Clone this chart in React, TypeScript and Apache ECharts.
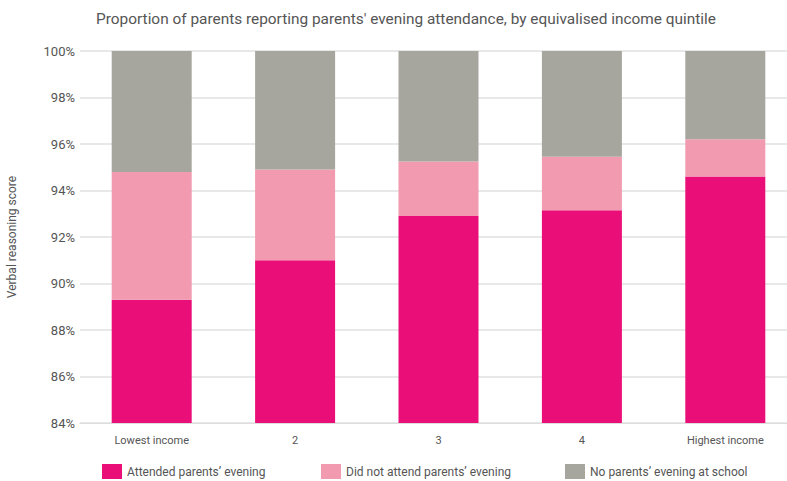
import React, { useEffect, useRef } from "react";
import * as echarts from "echarts";

const categories = ["Lowest income", "2", "3", "4", "Highest income"];
const attended = [89.3, 91.0, 92.9, 93.15, 94.6];
const didNotAttend = [5.5, 3.9, 2.35, 2.3, 1.6];
const noEvening = [5.2, 5.1, 4.75, 4.55, 3.8];
const seriesNames = [
  "Attended parents’ evening",
  "Did not attend parents’ evening",
  "No parents’ evening at school",
];
const colors = ["#EA0F78", "#F19AB0", "#A7A69E"];

const FONT = "Roboto, 'Noto Sans', sans-serif";

export default function App() {
  const ref = useRef<HTMLDivElement>(null);
  useEffect(() => {
    if (!ref.current) return;
    const chart = echarts.init(ref.current, undefined, { renderer: "svg" });
    const values = [attended, didNotAttend, noEvening];
    const legendLefts = [102, 321, 565];
    chart.setOption({
      animation: false,
      textStyle: { fontFamily: FONT },
      title: {
        text: "Proportion of parents reporting parents' evening attendance, by equivalised income quintile",
        left: 401,
        textAlign: "center",
        top: 6,
        textStyle: { fontFamily: FONT, fontSize: 15.4, fontWeight: "normal", color: "#555" },
      },
      legend: seriesNames.map((n, i) => ({
        data: [n],
        left: legendLefts[i],
        top: 464,
        padding: 0,
        icon: "rect",
        itemWidth: 20,
        itemHeight: 15,
        itemGap: 0,
        selectedMode: false,
        textStyle: { fontFamily: FONT, fontSize: 12, color: "#555" },
      })),
      grid: { left: 80, top: 51, width: 717, height: 372, outerBoundsMode: "none", containLabel: false },
      xAxis: {
        type: "category",
        data: categories,
        axisLine: { lineStyle: { color: "#ddd" } },
        axisTick: { show: false },
        axisLabel: { color: "#555", fontSize: 11, margin: 12, fontFamily: FONT },
      },
      yAxis: {
        type: "value",
        min: 84,
        max: 100,
        interval: 2,
        name: "Verbal reasoning score",
        nameLocation: "middle",
        nameRotate: 90,
        nameGap: 62,
        nameTextStyle: { color: "#555", fontSize: 12, fontFamily: FONT },
        axisLabel: { formatter: "{value}%", color: "#555", fontSize: 13, margin: 5, fontFamily: FONT },
        axisLine: { show: false },
        axisTick: { show: false },
        splitLine: { lineStyle: { color: "#e0e0e0", width: 1.5 } },
      },
      series: seriesNames.map((n, i) => ({
        name: n,
        type: "bar",
        stack: "total",
        barWidth: 80,
        itemStyle: { color: colors[i] },
        data: values[i],
      })),
    });
    return () => chart.dispose();
  }, []);
  return <div ref={ref} style={{ width: 787, height: 481, position: "absolute", left: 0, top: 0 }} />;
}
